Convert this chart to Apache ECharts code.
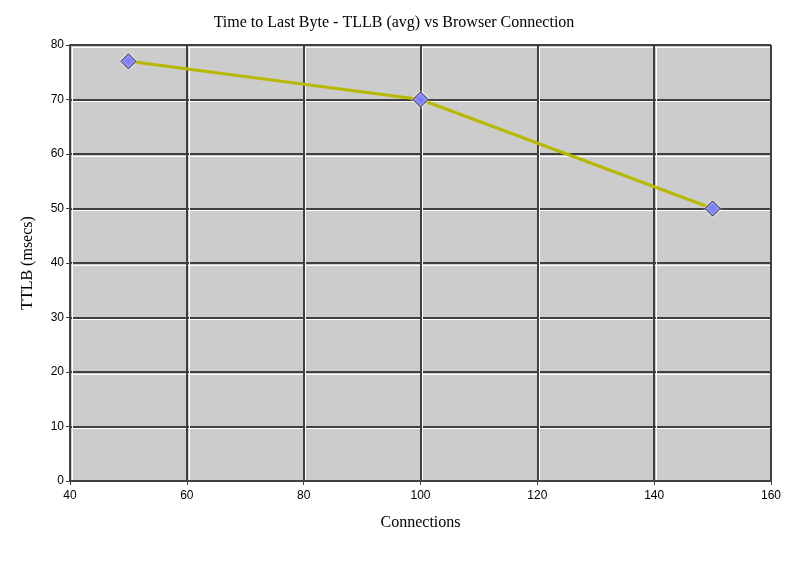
<!DOCTYPE html>
<html><head><meta charset="utf-8">
<script src="https://cdn.jsdelivr.net/npm/echarts@6/dist/echarts.min.js"></script>
<style>html,body{margin:0;padding:0;background:#fff}#c{width:788px;height:561px}</style>
</head><body><div id="c"></div>
<script>
const connections = [50, 100, 150];
const ttlb = [77, 70, 50];
const xTicks = [40, 60, 80, 100, 120, 140, 160];
const yTicks = [0, 10, 20, 30, 40, 50, 60, 70, 80];

const chart = echarts.init(document.getElementById('c'));
const G = {left: 70, top: 45, right: 17, bottom: 80};
const lblFont = {fontFamily: 'Liberation Sans, Arial, sans-serif', fontSize: 12, color: '#000'};
chart.setOption({
  animation: false,
  title: {text: 'Time to Last Byte - TLLB (avg) vs Browser Connection', left: 'center', top: 10,
    textStyle: {fontFamily: 'Liberation Serif, Times New Roman, serif', fontSize: 16, fontWeight: 'normal', color: '#000'}},
  grid: [
    {left: G.left + 2, top: G.top + 2, right: G.right - 2, bottom: G.bottom - 2, show: false},
    {left: G.left, top: G.top, right: G.right, bottom: G.bottom, show: true, backgroundColor: 'transparent', borderColor: '#404040', borderWidth: 1}
  ],
  xAxis: [
    {gridIndex: 0, type: 'value', min: xTicks[0], max: xTicks[xTicks.length-1], interval: 20,
      axisLine: {show: false}, axisTick: {show: false}, axisLabel: {show: false},
      splitLine: {show: true, lineStyle: {color: '#ffffff', width: 1}}},
    {gridIndex: 1, type: 'value', min: xTicks[0], max: xTicks[xTicks.length-1], interval: 20,
      name: 'Connections', nameLocation: 'middle', nameGap: 34,
      nameTextStyle: {fontFamily: 'Liberation Serif, Times New Roman, serif', fontSize: 16, color: '#000'},
      axisLine: {show: true, lineStyle: {color: '#404040', width: 2}},
      axisTick: {show: true, length: 4, lineStyle: {color: '#404040'}},
      axisLabel: Object.assign({margin: 9}, lblFont),
      splitLine: {show: true, lineStyle: {color: '#404040', width: 2}}}
  ],
  yAxis: [
    {gridIndex: 0, type: 'value', min: yTicks[0], max: yTicks[yTicks.length-1], interval: 10,
      axisLine: {show: false}, axisTick: {show: false}, axisLabel: {show: false},
      splitLine: {show: true, lineStyle: {color: '#ffffff', width: 1}}},
    {gridIndex: 1, type: 'value', min: yTicks[0], max: yTicks[yTicks.length-1], interval: 10,
      name: 'TTLB (msecs)', nameLocation: 'middle', nameGap: 34, nameRotate: 90,
      nameTextStyle: {fontFamily: 'Liberation Serif, Times New Roman, serif', fontSize: 16, color: '#000'},
      axisLine: {show: true, lineStyle: {color: '#404040', width: 2}},
      axisTick: {show: true, length: 4, lineStyle: {color: '#404040'}},
      axisLabel: Object.assign({margin: 6}, lblFont),
      splitLine: {show: true, lineStyle: {color: '#404040', width: 2}}}
  ],
  graphic: [{type: 'rect', z: -10, shape: {x: G.left, y: G.top, width: 788 - G.left - G.right, height: 561 - G.top - G.bottom},
    style: {fill: '#cccccc'}}],
  series: [{
    type: 'line', xAxisIndex: 1, yAxisIndex: 1,
    data: connections.map((c, i) => [c, ttlb[i]]),
    symbol: 'diamond', symbolSize: 15,
    lineStyle: {color: '#b8b800', width: 3},
    itemStyle: {color: '#8080ff', borderColor: '#202060', borderWidth: 1, shadowColor: '#ffffcc', shadowBlur: 3}
  }]
});
</script></body></html>
